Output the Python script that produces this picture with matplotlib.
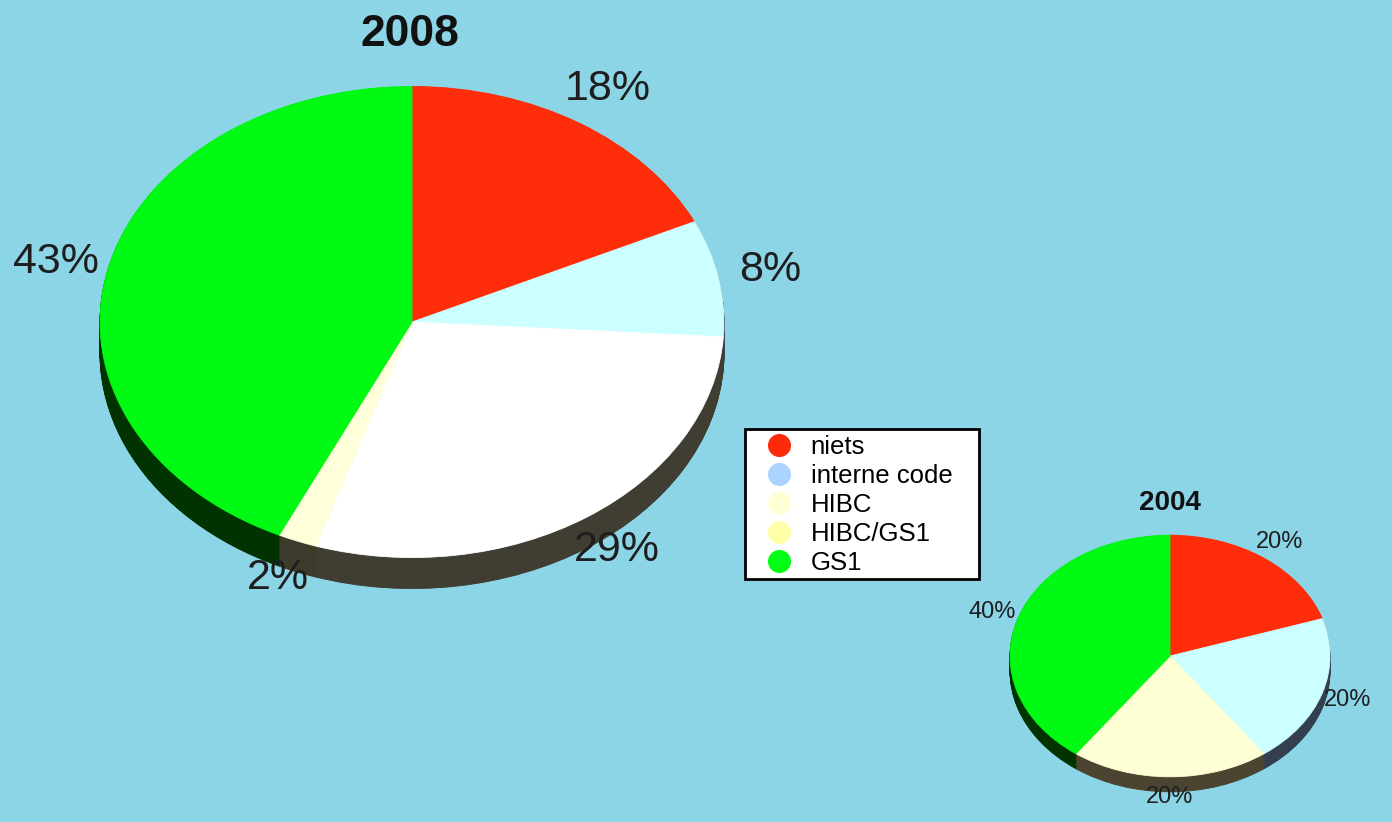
import matplotlib
matplotlib.use("Agg")
import matplotlib.pyplot as plt
from matplotlib.lines import Line2D
from matplotlib.patches import Rectangle

plt.rcParams['font.family'] = ['Liberation Sans', 'DejaVu Sans']

# ---- data ----
categories = ["niets", "interne code", "HIBC", "HIBC/GS1", "GS1"]
values_2008 = [18, 8, 29, 2, 43]
values_2004 = [20, 20, 20, 0, 40]
titles = ["2008", "2004"]

# ---- styles ----
W, H = 1392, 822
BG = '#8CD5E7'
legend_colors = ['#FF2A0A', '#AAD4FF', '#FFFFD5', '#FFFFAA', '#00FF15']
top_2008 = ['#FF2D0A', '#CCFFFF', '#FFFFFF', '#FFFFD9', '#00FA14']
side_2008 = ['#4A0A00', '#3A4552', '#403D33', '#3E3B2C', '#003300']
top_2004 = ['#FF2D0A', '#CCFFFF', '#FFFFD5', '#FFFFAA', '#00FA14']
side_2004 = ['#4A0A00', '#344050', '#4A4430', '#4A4430', '#003300']

YS = 0.755  # vertical squash of the pies (pixels per data unit in y)

fig = plt.figure(figsize=(W / 100, H / 100), dpi=100, facecolor=BG)
ax = fig.add_axes([0, 0, 1, 1])
ax.set_facecolor('none')


def pct_fmt(p):
    return f"{round(p)}%" if p > 0.5 else ""


def seal(wedges):
    for w in wedges:
        w.set_edgecolor(w.get_facecolor())
        w.set_linewidth(0.6)


def pie3d(values, tops, sides, cx_px, cy_px, r_px, depth_px, fsize):
    cy = (H - cy_px) / YS
    depth = depth_px / YS
    # side wall: stacked darker pies
    n = int(depth) + 1
    for i in range(n, 0, -1):
        off = depth * i / n
        res = ax.pie(values, colors=sides, startangle=90, counterclock=False,
                     radius=r_px, center=(cx_px, cy - off))
        seal(res[0])
    res = ax.pie(values, colors=tops, startangle=90, counterclock=False,
                 radius=r_px, center=(cx_px, cy),
                 autopct=pct_fmt, pctdistance=1.17,
                 textprops=dict(fontsize=fsize, color='#1E1E1E'))
    seal(res[0])


pie3d(values_2008, top_2008, side_2008, 412, 322, 312, 31, 31)
pie3d(values_2004, top_2004, side_2004, 1170, 656, 160, 15, 17)

ax.set_aspect('auto')
ax.set_xlim(0, W)
ax.set_ylim(0, H / YS)
ax.axis('off')

fig.text(410 / W, 1 - 35 / H, titles[0], fontsize=32, fontweight='bold',
         ha='center', va='center', color='#111111')
fig.text(1170 / W, 1 - 503 / H, titles[1], fontsize=20, fontweight='bold',
         ha='center', va='center', color='#111111')

# legend
fig.patches.append(Rectangle((745 / W, 1 - 579 / H), 234 / W, 150 / H,
                             transform=fig.transFigure, facecolor='white',
                             edgecolor='black', linewidth=2, zorder=5))
handles = [Line2D([], [], marker='o', linestyle='', markersize=16.6,
                  markerfacecolor=c, markeredgewidth=0) for c in legend_colors]
leg = fig.legend(handles, categories, loc='upper left',
                 bbox_to_anchor=(745 / W, 1 - 427 / H), frameon=False,
                 fontsize=18.5, borderaxespad=0, borderpad=0.3,
                 handlelength=2.04, handletextpad=0.22, labelspacing=0.2)
leg.set_zorder(6)

fig.savefig('out.png', dpi=100, facecolor=BG)
